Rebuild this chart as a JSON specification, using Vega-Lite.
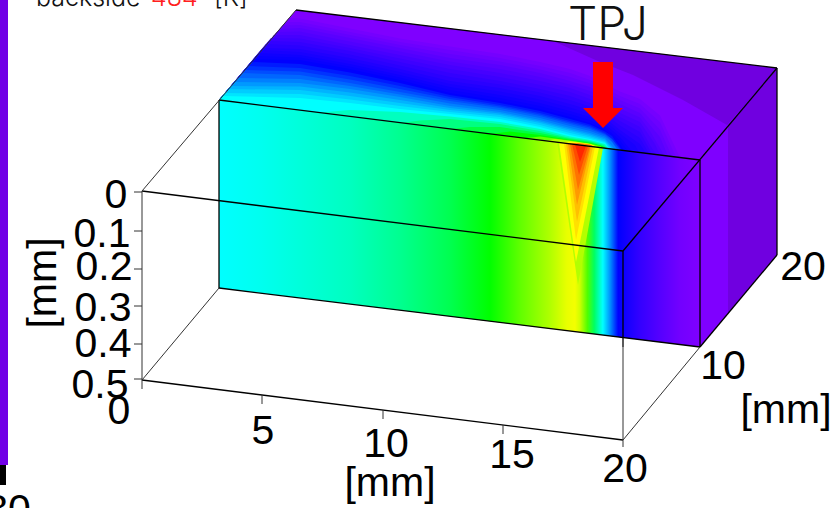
{"$schema":"https://vega.github.io/schema/vega-lite/v6.json","width":832,"height":508,"padding":0,"autosize":{"type":"none"},"config":{"view":{"stroke":null}},"background":"white",
"datasets":{
"strip":[{"x":0,"x2":8,"y":0,"y2":465,"k":"p"},{"x":0,"x2":6,"y":465,"y2":485,"k":"b"}],
"faces":[{"k":"top","x":219,"y":100,"y2":100},{"k":"top","x":296,"y":10,"y2":109.6},{"k":"top","x":700,"y":58.7,"y2":160},{"k":"top","x":777,"y":68,"y2":68},
{"k":"dark","x":553,"y":41,"y2":41},{"k":"dark","x":600,"y":46.7,"y2":62},{"k":"dark","x":633,"y":50.6,"y2":75},{"k":"dark","x":683,"y":56.7,"y2":100},{"k":"dark","x":727,"y":62,"y2":125},{"k":"dark","x":777,"y":68,"y2":68},
{"k":"front","x":219,"y":100,"y2":288},{"k":"front","x":700,"y":160,"y2":347},
{"k":"right","x":700,"y":160,"y2":347},{"k":"right","x":777,"y":68,"y2":255},
{"k":"arrow1","x":593,"y":62,"y2":108},{"k":"arrow1","x":613,"y":62,"y2":108},
{"k":"arrow2","x":583,"y":108,"y2":108},{"k":"arrow2","x":603,"y":108,"y2":128},{"k":"arrow2","x":623,"y":108,"y2":108}],
"hot":[
{"T":3.7,"x":557,"y":142.1,"y2":142.1},{"T":3.7,"x":578,"y":144.8,"y2":285},{"T":3.7,"x":603,"y":147.9,"y2":147.9},
{"T":4,"x":559,"y":142.4,"y2":142.4},{"T":4,"x":576,"y":144.5,"y2":262},{"T":4,"x":599,"y":147.4,"y2":147.4},
{"T":4.12,"x":564,"y":143,"y2":143},{"T":4.12,"x":576,"y":144.5,"y2":240},{"T":4.12,"x":595,"y":146.9,"y2":146.9},
{"T":4.25,"x":566,"y":143.3,"y2":143.3},{"T":4.25,"x":577,"y":144.6,"y2":222},{"T":4.25,"x":593,"y":146.6,"y2":146.6},
{"T":4.4,"x":568,"y":143.5,"y2":143.5},{"T":4.4,"x":577,"y":144.6,"y2":205},{"T":4.4,"x":591,"y":146.4,"y2":146.4},
{"T":4.55,"x":570,"y":143.8,"y2":143.8},{"T":4.55,"x":578,"y":144.8,"y2":190},{"T":4.55,"x":590,"y":146.3,"y2":146.3},
{"T":4.7,"x":572,"y":144,"y2":144},{"T":4.7,"x":579,"y":144.9,"y2":175},{"T":4.7,"x":588,"y":146,"y2":146},
{"T":4.85,"x":575,"y":144.4,"y2":144.4},{"T":4.85,"x":580,"y":145,"y2":162},{"T":4.85,"x":586,"y":145.8,"y2":145.8}],
"bands":[
{"T":0.08,"x":219,"y":100,"y2":100},{"T":0.08,"x":289,"y":18,"y2":108.7},{"T":0.08,"x":300,"y":18.5,"y2":110},{"T":0.08,"x":350,"y":28.5,"y2":116},{"T":0.08,"x":400,"y":38.5,"y2":123},{"T":0.08,"x":450,"y":46.5,"y2":129},{"T":0.08,"x":500,"y":54,"y2":135},{"T":0.08,"x":540,"y":62,"y2":140},{"T":0.08,"x":570,"y":69,"y2":144},{"T":0.08,"x":590,"y":76,"y2":146},{"T":0.08,"x":605,"y":84,"y2":148},{"T":0.08,"x":620,"y":91.5,"y2":150},{"T":0.08,"x":640,"y":99,"y2":152.5},{"T":0.08,"x":660,"y":115.5,"y2":155},{"T":0.08,"x":680,"y":157.5,"y2":157.5},
{"T":0.15,"x":219,"y":100,"y2":100},{"T":0.15,"x":286,"y":22,"y2":108.4},{"T":0.15,"x":300,"y":22,"y2":110},{"T":0.15,"x":350,"y":32,"y2":116},{"T":0.15,"x":400,"y":42,"y2":123},{"T":0.15,"x":450,"y":50,"y2":129},{"T":0.15,"x":500,"y":58,"y2":135},{"T":0.15,"x":540,"y":66,"y2":140},{"T":0.15,"x":570,"y":73,"y2":144},{"T":0.15,"x":590,"y":80,"y2":146},{"T":0.15,"x":605,"y":88,"y2":148},{"T":0.15,"x":620,"y":96,"y2":150},{"T":0.15,"x":640,"y":104,"y2":152.5},{"T":0.15,"x":660,"y":122,"y2":155},{"T":0.15,"x":676,"y":157,"y2":157},
{"T":0.22,"x":219,"y":100,"y2":100},{"T":0.22,"x":283,"y":25.5,"y2":108},{"T":0.22,"x":300,"y":25,"y2":110},{"T":0.22,"x":350,"y":35,"y2":116},{"T":0.22,"x":400,"y":45,"y2":123},{"T":0.22,"x":450,"y":54,"y2":129},{"T":0.22,"x":500,"y":61.5,"y2":135},{"T":0.22,"x":540,"y":69.5,"y2":140},{"T":0.22,"x":570,"y":77,"y2":144},{"T":0.22,"x":590,"y":83.5,"y2":146},{"T":0.22,"x":605,"y":91.5,"y2":148},{"T":0.22,"x":620,"y":100,"y2":150},{"T":0.22,"x":640,"y":108.5,"y2":152.5},{"T":0.22,"x":660,"y":129.5,"y2":155},{"T":0.22,"x":672,"y":156.5,"y2":156.5},
{"T":0.3,"x":219,"y":100,"y2":100},{"T":0.3,"x":280,"y":29,"y2":107.6},{"T":0.3,"x":300,"y":28,"y2":110},{"T":0.3,"x":350,"y":38,"y2":116},{"T":0.3,"x":400,"y":48,"y2":123},{"T":0.3,"x":450,"y":58,"y2":129},{"T":0.3,"x":500,"y":65,"y2":135},{"T":0.3,"x":540,"y":73,"y2":140},{"T":0.3,"x":570,"y":81,"y2":144},{"T":0.3,"x":590,"y":87,"y2":146},{"T":0.3,"x":605,"y":95,"y2":148},{"T":0.3,"x":620,"y":104,"y2":150},{"T":0.3,"x":640,"y":113,"y2":152.5},{"T":0.3,"x":660,"y":137,"y2":155},{"T":0.3,"x":668,"y":156,"y2":156},
{"T":0.37,"x":219,"y":100,"y2":100},{"T":0.37,"x":277,"y":32,"y2":107.2},{"T":0.37,"x":300,"y":31.5,"y2":110},{"T":0.37,"x":350,"y":41.5,"y2":116},{"T":0.37,"x":400,"y":51.5,"y2":123},{"T":0.37,"x":450,"y":61.5,"y2":129},{"T":0.37,"x":500,"y":69,"y2":135},{"T":0.37,"x":540,"y":77,"y2":140},{"T":0.37,"x":570,"y":84.5,"y2":144},{"T":0.37,"x":590,"y":91,"y2":146},{"T":0.37,"x":605,"y":99,"y2":148},{"T":0.37,"x":620,"y":108.5,"y2":150},{"T":0.37,"x":640,"y":117.5,"y2":152.5},{"T":0.37,"x":650,"y":131,"y2":153.7},{"T":0.37,"x":660,"y":148,"y2":155},{"T":0.37,"x":664,"y":155.5,"y2":155.5},
{"T":0.45,"x":219,"y":100,"y2":100},{"T":0.45,"x":274,"y":35,"y2":106.9},{"T":0.45,"x":300,"y":35,"y2":110},{"T":0.45,"x":350,"y":45,"y2":116},{"T":0.45,"x":400,"y":55,"y2":123},{"T":0.45,"x":450,"y":65,"y2":129},{"T":0.45,"x":500,"y":73,"y2":135},{"T":0.45,"x":540,"y":81,"y2":140},{"T":0.45,"x":570,"y":88,"y2":144},{"T":0.45,"x":590,"y":95,"y2":146},{"T":0.45,"x":605,"y":103,"y2":148},{"T":0.45,"x":620,"y":113,"y2":150},{"T":0.45,"x":640,"y":122,"y2":152.5},{"T":0.45,"x":655,"y":144,"y2":154.4},{"T":0.45,"x":660,"y":155,"y2":155},
{"T":0.52,"x":219,"y":100,"y2":100},{"T":0.52,"x":271,"y":38,"y2":106.5},{"T":0.52,"x":300,"y":38.5,"y2":110},{"T":0.52,"x":350,"y":48,"y2":116},{"T":0.52,"x":400,"y":58.5,"y2":123},{"T":0.52,"x":450,"y":69,"y2":129},{"T":0.52,"x":500,"y":77,"y2":135},{"T":0.52,"x":540,"y":85,"y2":140},{"T":0.52,"x":570,"y":92,"y2":144},{"T":0.52,"x":590,"y":99,"y2":146},{"T":0.52,"x":605,"y":106.5,"y2":148},{"T":0.52,"x":620,"y":117,"y2":150},{"T":0.52,"x":640,"y":127,"y2":152.5},{"T":0.52,"x":650,"y":145,"y2":153.7},{"T":0.52,"x":656,"y":154.5,"y2":154.5},
{"T":0.6,"x":219,"y":100,"y2":100},{"T":0.6,"x":269,"y":41,"y2":106.2},{"T":0.6,"x":300,"y":42,"y2":110},{"T":0.6,"x":350,"y":51,"y2":116},{"T":0.6,"x":400,"y":62,"y2":123},{"T":0.6,"x":450,"y":73,"y2":129},{"T":0.6,"x":500,"y":81,"y2":135},{"T":0.6,"x":540,"y":89,"y2":140},{"T":0.6,"x":570,"y":96,"y2":144},{"T":0.6,"x":590,"y":103,"y2":146},{"T":0.6,"x":605,"y":110,"y2":148},{"T":0.6,"x":620,"y":121,"y2":150},{"T":0.6,"x":640,"y":132,"y2":152.5},{"T":0.6,"x":652,"y":154,"y2":154},
{"T":0.67,"x":219,"y":100,"y2":100},{"T":0.67,"x":266,"y":44,"y2":105.9},{"T":0.67,"x":300,"y":45.5,"y2":110},{"T":0.67,"x":350,"y":54.5,"y2":116},{"T":0.67,"x":400,"y":65.5,"y2":123},{"T":0.67,"x":450,"y":77,"y2":129},{"T":0.67,"x":500,"y":84.5,"y2":135},{"T":0.67,"x":540,"y":92.5,"y2":140},{"T":0.67,"x":570,"y":100,"y2":144},{"T":0.67,"x":590,"y":106.5,"y2":146},{"T":0.67,"x":605,"y":114,"y2":148},{"T":0.67,"x":620,"y":125.5,"y2":150},{"T":0.67,"x":640,"y":138,"y2":152.5},{"T":0.67,"x":649,"y":153.6,"y2":153.6},
{"T":0.75,"x":219,"y":100,"y2":100},{"T":0.75,"x":264,"y":48,"y2":105.6},{"T":0.75,"x":300,"y":49,"y2":110},{"T":0.75,"x":350,"y":58,"y2":116},{"T":0.75,"x":400,"y":69,"y2":123},{"T":0.75,"x":450,"y":81,"y2":129},{"T":0.75,"x":500,"y":88,"y2":135},{"T":0.75,"x":540,"y":96,"y2":140},{"T":0.75,"x":570,"y":104,"y2":144},{"T":0.75,"x":590,"y":110,"y2":146},{"T":0.75,"x":605,"y":118,"y2":148},{"T":0.75,"x":620,"y":130,"y2":150},{"T":0.75,"x":640,"y":144,"y2":152.5},{"T":0.75,"x":646,"y":153.2,"y2":153.2},
{"T":0.81,"x":219,"y":100,"y2":100},{"T":0.81,"x":261,"y":50,"y2":105.2},{"T":0.81,"x":300,"y":52,"y2":110},{"T":0.81,"x":350,"y":61,"y2":116},{"T":0.81,"x":400,"y":72,"y2":123},{"T":0.81,"x":450,"y":84,"y2":129},{"T":0.81,"x":500,"y":91.5,"y2":135},{"T":0.81,"x":540,"y":99.5,"y2":140},{"T":0.81,"x":570,"y":107.5,"y2":144},{"T":0.81,"x":590,"y":113.5,"y2":146},{"T":0.81,"x":605,"y":121,"y2":148},{"T":0.81,"x":620,"y":133.5,"y2":150},{"T":0.81,"x":635,"y":145,"y2":152},{"T":0.81,"x":639,"y":152.4,"y2":152.4},
{"T":0.88,"x":219,"y":100,"y2":100},{"T":0.88,"x":259,"y":53,"y2":105},{"T":0.88,"x":300,"y":55,"y2":110},{"T":0.88,"x":350,"y":64,"y2":116},{"T":0.88,"x":400,"y":75,"y2":123},{"T":0.88,"x":450,"y":87,"y2":129},{"T":0.88,"x":500,"y":95,"y2":135},{"T":0.88,"x":540,"y":103,"y2":140},{"T":0.88,"x":570,"y":111,"y2":144},{"T":0.88,"x":590,"y":117,"y2":146},{"T":0.88,"x":605,"y":124,"y2":148},{"T":0.88,"x":620,"y":137,"y2":150},{"T":0.88,"x":632,"y":151.5,"y2":151.5},
{"T":0.94,"x":219,"y":100,"y2":100},{"T":0.94,"x":256,"y":56,"y2":104.6},{"T":0.94,"x":300,"y":57.5,"y2":110},{"T":0.94,"x":350,"y":66.5,"y2":116},{"T":0.94,"x":400,"y":77.5,"y2":123},{"T":0.94,"x":450,"y":90,"y2":129},{"T":0.94,"x":500,"y":98,"y2":135},{"T":0.94,"x":540,"y":106,"y2":140},{"T":0.94,"x":570,"y":114,"y2":144},{"T":0.94,"x":590,"y":120,"y2":146},{"T":0.94,"x":605,"y":127,"y2":148},{"T":0.94,"x":620,"y":140.5,"y2":150},{"T":0.94,"x":628,"y":151,"y2":151},
{"T":1,"x":219,"y":100,"y2":100},{"T":1,"x":254,"y":59,"y2":104.4},{"T":1,"x":300,"y":60,"y2":110},{"T":1,"x":350,"y":69,"y2":116},{"T":1,"x":400,"y":80,"y2":123},{"T":1,"x":450,"y":93,"y2":129},{"T":1,"x":500,"y":101,"y2":135},{"T":1,"x":540,"y":109,"y2":140},{"T":1,"x":570,"y":117,"y2":144},{"T":1,"x":590,"y":123,"y2":146},{"T":1,"x":605,"y":130,"y2":148},{"T":1,"x":620,"y":144,"y2":150},{"T":1,"x":624,"y":150.5,"y2":150.5},
{"T":1.1,"x":219,"y":100,"y2":100},{"T":1.1,"x":251,"y":62,"y2":104},{"T":1.1,"x":300,"y":64,"y2":110},{"T":1.1,"x":350,"y":72.5,"y2":116},{"T":1.1,"x":400,"y":83,"y2":123},{"T":1.1,"x":450,"y":95,"y2":129},{"T":1.1,"x":500,"y":103,"y2":135},{"T":1.1,"x":540,"y":111,"y2":140},{"T":1.1,"x":570,"y":119,"y2":144},{"T":1.1,"x":590,"y":124.5,"y2":146},{"T":1.1,"x":605,"y":131.5,"y2":148},{"T":1.1,"x":612,"y":136,"y2":149},{"T":1.1,"x":622,"y":150.2,"y2":150.2},
{"T":1.2,"x":219,"y":100,"y2":100},{"T":1.2,"x":248,"y":66,"y2":103.6},{"T":1.2,"x":300,"y":68,"y2":110},{"T":1.2,"x":350,"y":76,"y2":116},{"T":1.2,"x":400,"y":86,"y2":123},{"T":1.2,"x":450,"y":97,"y2":129},{"T":1.2,"x":500,"y":105,"y2":135},{"T":1.2,"x":540,"y":113,"y2":140},{"T":1.2,"x":570,"y":121,"y2":144},{"T":1.2,"x":590,"y":126,"y2":146},{"T":1.2,"x":605,"y":133,"y2":148},{"T":1.2,"x":612,"y":139,"y2":149},{"T":1.2,"x":621,"y":150.1,"y2":150.1},
{"T":1.3,"x":219,"y":100,"y2":100},{"T":1.3,"x":245,"y":70,"y2":103.2},{"T":1.3,"x":300,"y":71.5,"y2":110},{"T":1.3,"x":350,"y":79.5,"y2":116},{"T":1.3,"x":400,"y":89,"y2":123},{"T":1.3,"x":450,"y":99,"y2":129},{"T":1.3,"x":500,"y":106.5,"y2":135},{"T":1.3,"x":540,"y":114.5,"y2":140},{"T":1.3,"x":570,"y":122.5,"y2":144},{"T":1.3,"x":590,"y":127.5,"y2":146},{"T":1.3,"x":605,"y":134,"y2":148},{"T":1.3,"x":612,"y":139,"y2":149},{"T":1.3,"x":620,"y":150,"y2":150},
{"T":1.4,"x":219,"y":100,"y2":100},{"T":1.4,"x":242,"y":73,"y2":102.9},{"T":1.4,"x":300,"y":75,"y2":110},{"T":1.4,"x":350,"y":83,"y2":116},{"T":1.4,"x":400,"y":92,"y2":123},{"T":1.4,"x":450,"y":101,"y2":129},{"T":1.4,"x":500,"y":108,"y2":135},{"T":1.4,"x":540,"y":116,"y2":140},{"T":1.4,"x":570,"y":124,"y2":144},{"T":1.4,"x":590,"y":129,"y2":146},{"T":1.4,"x":605,"y":135,"y2":148},{"T":1.4,"x":610,"y":139,"y2":148.8},{"T":1.4,"x":618,"y":149.8,"y2":149.8},
{"T":1.5,"x":219,"y":100,"y2":100},{"T":1.5,"x":238,"y":78,"y2":102.4},{"T":1.5,"x":300,"y":79,"y2":110},{"T":1.5,"x":350,"y":86,"y2":116},{"T":1.5,"x":400,"y":94.5,"y2":123},{"T":1.5,"x":450,"y":103.5,"y2":129},{"T":1.5,"x":500,"y":110,"y2":135},{"T":1.5,"x":540,"y":118,"y2":140},{"T":1.5,"x":570,"y":126,"y2":144},{"T":1.5,"x":590,"y":131,"y2":146},{"T":1.5,"x":605,"y":136.5,"y2":148},{"T":1.5,"x":612,"y":142,"y2":149},{"T":1.5,"x":617,"y":149.7,"y2":149.7},
{"T":1.6,"x":219,"y":100,"y2":100},{"T":1.6,"x":234,"y":82,"y2":101.9},{"T":1.6,"x":300,"y":83,"y2":110},{"T":1.6,"x":350,"y":89,"y2":116},{"T":1.6,"x":400,"y":97,"y2":123},{"T":1.6,"x":450,"y":106,"y2":129},{"T":1.6,"x":500,"y":112,"y2":135},{"T":1.6,"x":540,"y":120,"y2":140},{"T":1.6,"x":570,"y":128,"y2":144},{"T":1.6,"x":590,"y":133,"y2":146},{"T":1.6,"x":605,"y":138,"y2":148},{"T":1.6,"x":615,"y":149.4,"y2":149.4},
{"T":1.7,"x":219,"y":100,"y2":100},{"T":1.7,"x":231,"y":86,"y2":101.5},{"T":1.7,"x":300,"y":86.5,"y2":110},{"T":1.7,"x":350,"y":92.5,"y2":116},{"T":1.7,"x":400,"y":100,"y2":123},{"T":1.7,"x":450,"y":108,"y2":129},{"T":1.7,"x":500,"y":113.5,"y2":135},{"T":1.7,"x":540,"y":121.5,"y2":140},{"T":1.7,"x":570,"y":129.5,"y2":144},{"T":1.7,"x":590,"y":134.5,"y2":146},{"T":1.7,"x":605,"y":139.5,"y2":148},{"T":1.7,"x":613,"y":149.2,"y2":149.2},
{"T":1.8,"x":219,"y":100,"y2":100},{"T":1.8,"x":228,"y":89,"y2":101.1},{"T":1.8,"x":300,"y":90,"y2":110},{"T":1.8,"x":350,"y":96,"y2":116},{"T":1.8,"x":400,"y":103,"y2":123},{"T":1.8,"x":450,"y":110,"y2":129},{"T":1.8,"x":500,"y":115,"y2":135},{"T":1.8,"x":540,"y":123,"y2":140},{"T":1.8,"x":570,"y":131,"y2":144},{"T":1.8,"x":590,"y":136,"y2":146},{"T":1.8,"x":605,"y":141,"y2":148},{"T":1.8,"x":612,"y":149,"y2":149},
{"T":1.9,"x":219,"y":100,"y2":100},{"T":1.9,"x":225,"y":93,"y2":100.7},{"T":1.9,"x":300,"y":94,"y2":110},{"T":1.9,"x":350,"y":99.5,"y2":116},{"T":1.9,"x":400,"y":106,"y2":123},{"T":1.9,"x":450,"y":112,"y2":129},{"T":1.9,"x":500,"y":117,"y2":135},{"T":1.9,"x":540,"y":125,"y2":140},{"T":1.9,"x":570,"y":133,"y2":144},{"T":1.9,"x":590,"y":137.5,"y2":146},{"T":1.9,"x":605,"y":142,"y2":148},{"T":1.9,"x":610,"y":148.8,"y2":148.8},
{"T":2,"x":219,"y":100,"y2":100},{"T":2,"x":222,"y":96,"y2":100.4},{"T":2,"x":300,"y":98,"y2":110},{"T":2,"x":350,"y":103,"y2":116},{"T":2,"x":400,"y":109,"y2":123},{"T":2,"x":450,"y":114,"y2":129},{"T":2,"x":500,"y":119,"y2":135},{"T":2,"x":540,"y":127,"y2":140},{"T":2,"x":570,"y":135,"y2":144},{"T":2,"x":590,"y":139,"y2":146},{"T":2,"x":605,"y":143,"y2":148},{"T":2,"x":609,"y":148.6,"y2":148.6},
{"T":2.25,"x":320,"y":112.6,"y2":112.6},{"T":2.25,"x":350,"y":110,"y2":116},{"T":2.25,"x":400,"y":112,"y2":123},{"T":2.25,"x":450,"y":116.5,"y2":129},{"T":2.25,"x":500,"y":122,"y2":135},{"T":2.25,"x":540,"y":129,"y2":140},{"T":2.25,"x":570,"y":136.5,"y2":144},{"T":2.25,"x":590,"y":140,"y2":146},{"T":2.25,"x":605,"y":144,"y2":148},{"T":2.25,"x":608,"y":148.5,"y2":148.5},
{"T":2.5,"x":400,"y":123,"y2":123},{"T":2.5,"x":420,"y":120.5,"y2":125},{"T":2.5,"x":450,"y":119,"y2":129},{"T":2.5,"x":500,"y":124,"y2":135},{"T":2.5,"x":540,"y":131,"y2":140},{"T":2.5,"x":570,"y":138,"y2":144},{"T":2.5,"x":590,"y":141,"y2":146},{"T":2.5,"x":604,"y":145,"y2":148},{"T":2.5,"x":607,"y":148.4,"y2":148.4},
{"T":2.75,"x":450,"y":129,"y2":129},{"T":2.75,"x":470,"y":127,"y2":131.3},{"T":2.75,"x":500,"y":127,"y2":135},{"T":2.75,"x":540,"y":133,"y2":140},{"T":2.75,"x":570,"y":139,"y2":144},{"T":2.75,"x":590,"y":142,"y2":146},{"T":2.75,"x":603,"y":146,"y2":147.9},{"T":2.75,"x":606,"y":148.3,"y2":148.3},
{"T":3,"x":490,"y":134,"y2":134},{"T":3,"x":510,"y":131.5,"y2":136.3},{"T":3,"x":540,"y":135,"y2":140},{"T":3,"x":570,"y":140,"y2":144},{"T":3,"x":590,"y":143,"y2":146},{"T":3,"x":602,"y":146,"y2":147.8},{"T":3,"x":605,"y":148,"y2":148},
{"T":3.4,"x":525,"y":138.2,"y2":138.2},{"T":3.4,"x":540,"y":136.5,"y2":140},{"T":3.4,"x":570,"y":140.5,"y2":144},{"T":3.4,"x":590,"y":143.5,"y2":146},{"T":3.4,"x":600,"y":146,"y2":147.5},{"T":3.4,"x":603,"y":147.9,"y2":147.9},
{"T":3.7,"x":545,"y":140.7,"y2":140.7},{"T":3.7,"x":555,"y":139,"y2":141.9},{"T":3.7,"x":575,"y":141.5,"y2":144.4},{"T":3.7,"x":590,"y":144,"y2":146},{"T":3.7,"x":600,"y":147.5,"y2":147.5},
{"T":4,"x":560,"y":142.5,"y2":142.5},{"T":4,"x":570,"y":141.5,"y2":144},{"T":4,"x":590,"y":144,"y2":146},{"T":4,"x":598,"y":147.3,"y2":147.3},
{"T":4.5,"x":568,"y":143.5,"y2":143.5},{"T":4.5,"x":578,"y":143,"y2":144.8},{"T":4.5,"x":590,"y":144.5,"y2":146},{"T":4.5,"x":595,"y":146.9,"y2":146.9}],
"edges":[{"k":"a","x":296,"y":10,"x2":777,"y2":68},{"k":"a","x":219,"y":100,"x2":700,"y2":160},{"k":"a","x":142,"y":191,"x2":623,"y2":251},{"k":"a","x":219,"y":288,"x2":700,"y2":347},{"k":"a","x":142,"y":380,"x2":623,"y2":440},{"k":"a","x":219,"y":100,"x2":219,"y2":288},{"k":"a","x":700,"y":160,"x2":700,"y2":347},{"k":"a","x":777,"y":68,"x2":777,"y2":255},{"k":"a","x":623,"y":251,"x2":623,"y2":347},{"k":"a","x":623,"y":251,"x2":777,"y2":68},{"k":"a","x":700,"y":347,"x2":777,"y2":255},
{"k":"b","x":142,"y":191,"x2":296,"y2":10},{"k":"b","x":142,"y":380,"x2":219,"y2":288},{"k":"b","x":623,"y":440,"x2":700,"y2":347},{"k":"b","x":142,"y":191,"x2":142,"y2":389},{"k":"b","x":623,"y":347,"x2":623,"y2":447},
{"k":"b","x":134,"y":192,"x2":142,"y2":192},{"k":"b","x":134,"y":231,"x2":142,"y2":231},{"k":"b","x":134,"y":269,"x2":142,"y2":269},{"k":"b","x":134,"y":306,"x2":142,"y2":306},{"k":"b","x":134,"y":344,"x2":142,"y2":344},{"k":"b","x":134,"y":379,"x2":142,"y2":379},
{"k":"b","x":262,"y":395,"x2":262,"y2":404},{"k":"b","x":383,"y":410,"x2":383,"y2":419},{"k":"b","x":503,"y":425,"x2":503,"y2":434}],
"labels":[{"x":116,"y":208,"t":"0"},{"x":102,"y":247,"t":"0.1"},{"x":104,"y":280,"t":"0.2"},{"x":103,"y":321,"t":"0.3"},{"x":103,"y":357,"t":"0.4"},{"x":100,"y":398,"t":"0.5"},{"x":119,"y":424,"t":"0"},{"x":263,"y":444,"t":"5"},{"x":386,"y":457,"t":"10"},{"x":512,"y":468,"t":"15"},{"x":625,"y":482,"t":"20"},{"x":390,"y":496,"t":"[mm]"},{"x":786,"y":423,"t":"[mm]"},{"x":723,"y":379,"t":"10"},{"x":803,"y":280,"t":"20"},{"x":8,"y":523,"t":"80"}],
"vert":[{"x":56,"y":283,"t":"[mm]"}],
"head":[{"x":36,"y":6,"t":"backside","c":"k"},{"x":151,"y":6,"t":"484","c":"r"},{"x":214,"y":6,"t":"[K]","c":"k"}],
"tpj":[{"x":608,"y":40,"t":"TPJ"}]
},
"encoding":{"x":{"field":"x","type":"quantitative","scale":{"domain":[0,832],"nice":false,"zero":false},"axis":null},"y":{"field":"y","type":"quantitative","scale":{"domain":[508,0],"nice":false,"zero":false},"axis":null}},
"layer":[
{"data":{"name":"strip"},"transform":[{"filter":"datum.k=='p'"}],"mark":{"type":"rect","color":"#7000e6"},"encoding":{"x2":{"field":"x2"},"y2":{"field":"y2"}}},
{"data":{"name":"strip"},"transform":[{"filter":"datum.k=='b'"}],"mark":{"type":"rect","color":"#000000"},"encoding":{"x2":{"field":"x2"},"y2":{"field":"y2"}}},
{"data":{"name":"faces"},"transform":[{"filter":"datum.k=='top'"}],"mark":{"type":"area","color":"#7f00ff"},"encoding":{"y2":{"field":"y2"}}},
{"data":{"name":"faces"},"transform":[{"filter":"datum.k=='dark'"}],"mark":{"type":"area","color":"#7000e0"},"encoding":{"y2":{"field":"y2"}}},
{"data":{"name":"bands"},"mark":{"type":"area"},"encoding":{"y2":{"field":"y2"},"detail":{"field":"T"},"fill":{"field":"T","type":"quantitative","legend":null,"scale":{"domain":[0,1,2,3,4,5],"range":["#7f00ff","#0000ff","#00ffff","#00ff00","#ffff00","#ff0000"],"interpolate":"rgb"}}}},
{"data":{"name":"faces"},"transform":[{"filter":"datum.k=='front'"}],"mark":{"type":"area","fill":{"gradient":"linear","x1":0,"y1":0,"x2":1,"y2":0,"stops":[{"offset":0,"color":"#00ffff"},{"offset":0.085,"color":"#00fff0"},{"offset":0.272,"color":"#00ffc0"},{"offset":0.376,"color":"#00ff90"},{"offset":0.48,"color":"#00ff50"},{"offset":0.563,"color":"#00ff00"},{"offset":0.626,"color":"#60ff00"},{"offset":0.688,"color":"#b0ff00"},{"offset":0.723,"color":"#e8ff00"},{"offset":0.74,"color":"#f4ff00"},{"offset":0.75,"color":"#d0ff00"},{"offset":0.766,"color":"#50ff00"},{"offset":0.78,"color":"#00ff60"},{"offset":0.798,"color":"#00ffff"},{"offset":0.813,"color":"#0090ff"},{"offset":0.83,"color":"#0000ff"},{"offset":0.875,"color":"#3300ff"},{"offset":0.917,"color":"#5500ff"},{"offset":0.958,"color":"#7200ff"},{"offset":1,"color":"#7f00ff"}]}},"encoding":{"y2":{"field":"y2"}}},
{"data":{"name":"faces"},"transform":[{"filter":"datum.k=='right'"}],"mark":{"type":"area","fill":{"gradient":"linear","x1":0,"y1":0,"x2":1,"y2":0,"stops":[{"offset":0,"color":"#7f00ff"},{"offset":0.36,"color":"#7f00ff"},{"offset":0.365,"color":"#7000e0"},{"offset":1,"color":"#7000e0"}]}},"encoding":{"y2":{"field":"y2"}}},
{"data":{"name":"hot"},"mark":{"type":"area"},"encoding":{"y2":{"field":"y2"},"detail":{"field":"T"},"fill":{"field":"T","type":"quantitative","legend":null,"scale":{"domain":[0,1,2,3,4,5],"range":["#7f00ff","#0000ff","#00ffff","#00ff00","#ffff00","#ff0000"],"interpolate":"rgb"}}}},
{"data":{"name":"edges"},"transform":[{"filter":"datum.k=='a'"}],"mark":{"type":"rule","color":"#000000","strokeWidth":1.3},"encoding":{"x2":{"field":"x2"},"y2":{"field":"y2"}}},
{"data":{"name":"edges"},"transform":[{"filter":"datum.k=='b'"}],"mark":{"type":"rule","color":"#333333","strokeWidth":1},"encoding":{"x2":{"field":"x2"},"y2":{"field":"y2"}}},
{"data":{"name":"faces"},"transform":[{"filter":"datum.k=='arrow1'||datum.k=='arrow2'"}],"mark":{"type":"area","color":"#ff0000"},"encoding":{"y2":{"field":"y2"},"detail":{"field":"k"}}},
{"data":{"name":"labels"},"mark":{"type":"text","font":"Liberation Sans","fontSize":41,"align":"center","baseline":"alphabetic","color":"#000000"},"encoding":{"text":{"field":"t"}}},
{"data":{"name":"vert"},"mark":{"type":"text","font":"Liberation Sans","fontSize":41,"align":"center","baseline":"alphabetic","angle":270,"color":"#000000"},"encoding":{"text":{"field":"t"}}},
{"data":{"name":"head"},"mark":{"type":"text","font":"Inter","fontWeight":300,"fontSize":25,"align":"left","baseline":"alphabetic"},"encoding":{"text":{"field":"t"},"color":{"field":"c","type":"nominal","legend":null,"scale":{"domain":["k","r"],"range":["#111111","#ff2020"]}}}},
{"data":{"name":"tpj"},"mark":{"type":"text","font":"Inter","fontWeight":300,"fontSize":46,"align":"center","baseline":"alphabetic","color":"#111111"},"encoding":{"text":{"field":"t"}}}
]}
